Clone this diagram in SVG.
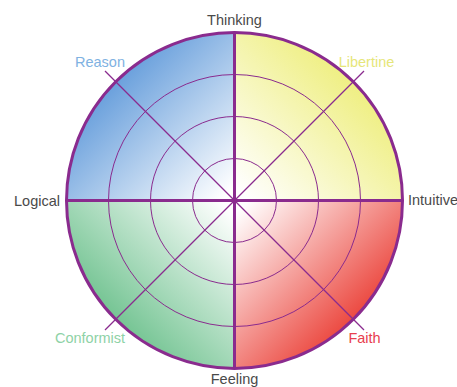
<svg xmlns="http://www.w3.org/2000/svg" width="457" height="387" viewBox="0 0 457 387">
<defs>
<linearGradient id="gUL" gradientUnits="userSpaceOnUse" x1="234.5" y1="200.5" x2="95" y2="61">
<stop offset="0.05" stop-color="#ffffff"/><stop offset="1" stop-color="#4f8fd6"/></linearGradient>
<linearGradient id="gUR" gradientUnits="userSpaceOnUse" x1="234.5" y1="200.5" x2="374" y2="61">
<stop offset="0.05" stop-color="#ffffff"/><stop offset="1" stop-color="#ecec6c"/></linearGradient>
<linearGradient id="gLL" gradientUnits="userSpaceOnUse" x1="234.5" y1="200.5" x2="95" y2="340">
<stop offset="0.05" stop-color="#ffffff"/><stop offset="1" stop-color="#5cba80"/></linearGradient>
<linearGradient id="gLR" gradientUnits="userSpaceOnUse" x1="234.5" y1="200.5" x2="374" y2="340">
<stop offset="0.05" stop-color="#ffffff"/><stop offset="1" stop-color="#e8281e"/></linearGradient>
<style>
.ring{fill:none;stroke:#8a2b8e;stroke-width:1}
.diag{stroke:#8a2b8e;stroke-width:1.2}
.axis{stroke:#8a2b8e;stroke-width:3}
.outer{fill:none;stroke:#8a2b8e;stroke-width:3}
.lbl{font-family:"Liberation Sans",Arial,sans-serif;font-size:14.5px;fill:#4a4a4a}
.q{font-family:"Liberation Sans",Arial,sans-serif;font-size:14.5px}
</style>
</defs>
<g id="quadrants">
<path id="q-reason" d="M234.5 200.5 L66.5 200.5 A168 168 0 0 1 234.5 32.5 Z" fill="url(#gUL)"/>
<path id="q-libertine" d="M234.5 200.5 L234.5 32.5 A168 168 0 0 1 402.5 200.5 Z" fill="url(#gUR)"/>
<path id="q-faith" d="M234.5 200.5 L402.5 200.5 A168 168 0 0 1 234.5 368.5 Z" fill="url(#gLR)"/>
<path id="q-conformist" d="M234.5 200.5 L234.5 368.5 A168 168 0 0 1 66.5 200.5 Z" fill="url(#gLL)"/>
</g>
<g id="rings">
<circle class="ring" cx="234.5" cy="200.5" r="42"/>
<circle class="ring" cx="234.5" cy="200.5" r="84"/>
<circle class="ring" cx="234.5" cy="200.5" r="126"/>
</g>
<g id="connectors">
<line class="diag" x1="105" y1="71" x2="364" y2="330"/>
<line class="diag" x1="364" y1="71" x2="105" y2="330"/>
<line class="axis" x1="66.5" y1="200.5" x2="402.5" y2="200.5"/>
<line class="axis" x1="234.5" y1="32.5" x2="234.5" y2="368.5"/>
</g>
<circle id="outer" class="outer" cx="234.5" cy="200.5" r="168"/>
<g id="labels">
<text class="lbl" x="234.5" y="25" text-anchor="middle">Thinking</text>
<text class="lbl" x="234.5" y="384" text-anchor="middle">Feeling</text>
<text class="lbl" x="60" y="206" text-anchor="end">Logical</text>
<text class="lbl" x="408" y="205">Intuitive</text>
<text class="q" x="100" y="67" text-anchor="middle" fill="#7fb2e2">Reason</text>
<text class="q" x="366.5" y="67" text-anchor="middle" fill="#e6e67a">Libertine</text>
<text class="q" x="90" y="343" text-anchor="middle" fill="#8ed2a6">Conformist</text>
<text class="q" x="364.5" y="343" text-anchor="middle" fill="#e8404e">Faith</text>
</g>
</svg>
